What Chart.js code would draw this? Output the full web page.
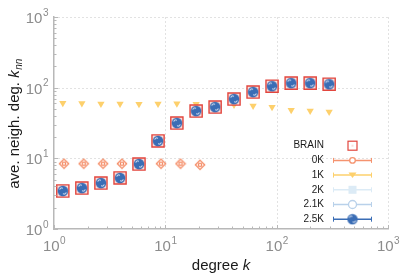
<!DOCTYPE html>
<html>
<head>
<meta charset="utf-8">
<script src="https://cdn.jsdelivr.net/npm/chart.js@4/dist/chart.umd.min.js"></script>
<style>
html, body { margin: 0; padding: 0; background: #fff; }
#wrap { width: 415px; height: 277px; }
</style>
</head>
<body>
<div id="wrap"><canvas id="knn"></canvas></div>
<script>
// degree bins k
const degree = [1.2, 1.78, 2.64, 3.92, 5.8, 8.6, 12.7, 18.9, 28, 41.4, 61.4, 90.9, 135, 200, 296];
const degree0K = [1.23, 1.85, 2.76, 4.08, 5.93, 9.15, 13.7, 20.5];

// average neighbour degree k_nn
const brain = [3.45, 3.8, 4.47, 5.27, 8.3, 17.6, 31.6, 46.7, 53.2, 69, 86.7, 105, 116, 116, 112];
const knn0K = [8.4, 8.4, 8.4, 8.4, 8.4, 8.4, 8.4, 8.1];
const knn1K = [60.5, 60, 59, 59, 58.5, 59, 59.5, 58.5, 57.5, 57.3, 55.5, 53.2, 48.2, 47.1, 45.6];
const knn2K = [3.45, 3.8, 4.47, 5.27, 8.3, 17.6, 31.6, 46.7, 53.2, 69, 86.7, 105, 116, 116, 112];
const knn2_1K = [3.45, 3.8, 4.47, 5.27, 8.3, 17.6, 31.6, 46.7, 53.2, 69, 86.7, 105, 116, 116, 112];
const knn2_5K = [3.45, 3.8, 4.47, 5.27, 8.3, 17.6, 31.6, 46.7, 53.2, 69, 86.7, 105, 116, 116, 112];

const decades = [0, 1, 2, 3];
const legendNames = ['BRAIN', '0K', '1K', '2K', '2.1K', '2.5K'];

const FONT = '"Liberation Sans", Arial, Helvetica, sans-serif';
const axisGray = '#b8b8b8';
const labelGray = '#8c8c8c';

function pts(xs, ys) {
    return xs.map((x, i) => ({ x, y: ys[i] }));
}

// dark blue marker with white swirls
function blueDot() {
    const c = document.createElement('canvas');
    c.width = 12; c.height = 12;
    const g = c.getContext('2d');
    g.fillStyle = '#3a6db5';
    g.beginPath(); g.arc(6, 6, 5.2, 0, Math.PI * 2); g.fill();
    g.strokeStyle = 'rgba(255,255,255,0.9)';
    g.lineWidth = 1;
    g.beginPath(); g.arc(4.6, 4.6, 1.7, Math.PI, Math.PI * 1.8); g.stroke();
    g.beginPath(); g.arc(7.4, 7.4, 1.7, 0, Math.PI * 0.8); g.stroke();
    return c;
}

// orange diamond with small ring inside
function diamond() {
    const c = document.createElement('canvas');
    c.width = 12; c.height = 12;
    const g = c.getContext('2d');
    g.strokeStyle = '#f4875f';
    g.lineWidth = 1.2;
    g.beginPath();
    g.moveTo(6, 1.3); g.lineTo(10.7, 6); g.lineTo(6, 10.7); g.lineTo(1.3, 6); g.closePath();
    g.stroke();
    g.beginPath(); g.arc(6, 6, 1.7, 0, Math.PI * 2); g.stroke();
    return c;
}

const blueImg = blueDot();
const diamondImg = diamond();

const datasets = [
    {
        label: '2.5K', data: pts(degree, knn2_5K), order: 0,
        pointStyle: blueImg, color: '#3a6db5'
    },
    {
        label: 'BRAIN', data: pts(degree, brain), order: 1,
        pointStyle: 'rect', pointRadius: 8.6, pointBorderWidth: 1.4,
        pointBorderColor: '#e2463e', pointBackgroundColor: 'rgba(240,150,140,0.3)', color: '#e2463e'
    },
    {
        label: '2.1K', data: pts(degree, knn2_1K), order: 2,
        pointStyle: 'circle', pointRadius: 5.5, pointBorderWidth: 1,
        pointBorderColor: '#c6daee', pointBackgroundColor: 'rgba(0,0,0,0)', color: '#b9d1ea'
    },
    {
        label: '2K', data: pts(degree, knn2K), order: 3,
        pointStyle: 'rect', pointRadius: 5, pointBorderWidth: 0,
        pointBackgroundColor: '#dcebf6', color: '#dcebf6'
    },
    {
        label: '1K', data: pts(degree, knn1K), order: 4,
        pointStyle: 'triangle', pointRotation: 180, pointRadius: 4.2, pointBorderWidth: 0,
        pointBackgroundColor: '#fdd06c', color: '#fdd06c'
    },
    {
        label: '0K', data: pts(degree0K, knn0K), order: 5,
        pointStyle: diamondImg, color: '#f5936f'
    }
];
datasets.forEach(d => { d.showLine = false; });

function drawPow(g, x, y, exp, align) {
    g.font = '15px ' + FONT;
    const w1 = g.measureText('10').width;
    g.font = '10px ' + FONT;
    const w2 = g.measureText(String(exp)).width;
    const start = align === 'right' ? x - w1 - w2 : x - (w1 + w2) / 2;
    g.fillStyle = labelGray;
    g.textAlign = 'left';
    g.textBaseline = 'alphabetic';
    g.font = '15px ' + FONT;
    g.fillText('10', start, y);
    g.font = '10px ' + FONT;
    g.fillText(String(exp), start + w1 + 0.5, y - 7.5);
}

const decor = {
    id: 'decor',
    beforeDatasetsDraw(chart) {
        const g = chart.ctx;
        const { left, right, top, bottom } = chart.chartArea;
        const xs = chart.scales.x, ys = chart.scales.y;
        g.save();
        g.strokeStyle = '#e2e2e2';
        g.lineWidth = 1;
        g.setLineDash([2, 2]);
        decades.forEach(e => {
            if (e > 0) {
                const px = Math.round(xs.getPixelForValue(10 ** e)) + 0.5;
                g.beginPath(); g.moveTo(px, top); g.lineTo(px, bottom); g.stroke();
                const py = Math.round(ys.getPixelForValue(10 ** e)) + 0.5;
                g.beginPath(); g.moveTo(left, py); g.lineTo(right, py); g.stroke();
            }
        });
        g.restore();
    },
    afterDraw(chart) {
        const g = chart.ctx;
        const { left, right, top, bottom } = chart.chartArea;
        const xs = chart.scales.x, ys = chart.scales.y;
        g.save();

        // minor ticks pointing inwards
        g.strokeStyle = axisGray;
        g.lineWidth = 1;
        decades.slice(0, 3).forEach(e => {
            for (let m = 1; m <= 10; m++) {
                const v = m * 10 ** e;
                const len = (m === 1 || m === 10) ? 4 : 2.5;
                const px = Math.round(xs.getPixelForValue(v)) + 0.5;
                g.beginPath(); g.moveTo(px, bottom); g.lineTo(px, bottom - len); g.stroke();
                const py = Math.round(ys.getPixelForValue(v)) + 0.5;
                g.beginPath(); g.moveTo(left, py); g.lineTo(left + len, py); g.stroke();
            }
        });

        // tick labels
        decades.forEach(e => {
            drawPow(g, xs.getPixelForValue(10 ** e), bottom + 22, e, 'center');
            drawPow(g, left - 6, ys.getPixelForValue(10 ** e) + 6, e, 'right');
        });

        // axis titles
        g.fillStyle = '#1a1a1a';
        g.textBaseline = 'alphabetic';
        const t1 = 'degree ';
        g.font = '15px ' + FONT;
        const w1 = g.measureText(t1).width;
        g.font = 'italic 15px ' + FONT;
        const w2 = g.measureText('k').width;
        const sx = (left + right) / 2 - (w1 + w2) / 2;
        g.textAlign = 'left';
        g.font = '15px ' + FONT;
        g.fillText(t1, sx, 270);
        g.font = 'italic 15px ' + FONT;
        g.fillText('k', sx + w1, 270);

        g.save();
        g.translate(19, 124);
        g.rotate(-Math.PI / 2);
        const a = 'ave. neigh. deg. ';
        g.font = '15px ' + FONT;
        const wa = g.measureText(a).width;
        g.font = 'italic 15px ' + FONT;
        const wk = g.measureText('k').width;
        g.font = 'italic 10px ' + FONT;
        const wn = g.measureText('nn').width;
        const s = -(wa + wk + wn) / 2;
        g.font = '15px ' + FONT;
        g.fillText(a, s, 0);
        g.font = 'italic 15px ' + FONT;
        g.fillText('k', s + wa, 0);
        g.font = 'italic 10px ' + FONT;
        g.fillText('nn', s + wa + wk + 0.5, 3);
        g.restore();

        // legend
        const rowY = 145.7, rowH = 14.7;
        const textX = 324, lx0 = 333, lx1 = 372, mx = 352.5;
        legendNames.forEach((name, i) => {
            const ds = chart.data.datasets.find(d => d.label === name);
            const y = rowY + i * rowH;
            g.fillStyle = '#1a1a1a';
            g.font = '10px ' + FONT;
            g.textAlign = 'right';
            g.textBaseline = 'middle';
            g.fillText(name, textX, y);
            if (name === 'BRAIN') {
                g.strokeStyle = ds.pointBorderColor;
                g.lineWidth = 1.2;
                g.strokeRect(mx - 4.5, y - 4.5, 9, 9);
                g.fillStyle = ds.pointBackgroundColor;
                g.fillRect(mx - 1, y - 1, 2, 2);
                return;
            }
            g.strokeStyle = ds.color;
            g.lineWidth = 1.5;
            g.beginPath(); g.moveTo(lx0, y); g.lineTo(lx1, y); g.stroke();
            g.lineWidth = 1;
            g.beginPath(); g.moveTo(lx0 + 0.5, y - 2.5); g.lineTo(lx0 + 0.5, y + 2.5); g.stroke();
            g.beginPath(); g.moveTo(lx1 - 0.5, y - 2.5); g.lineTo(lx1 - 0.5, y + 2.5); g.stroke();
            if (name === '0K') {
                g.fillStyle = '#fff';
                g.lineWidth = 1.3;
                g.beginPath(); g.arc(mx, y, 2.8, 0, Math.PI * 2); g.fill(); g.stroke();
            } else if (name === '1K') {
                g.fillStyle = ds.pointBackgroundColor;
                g.beginPath(); g.moveTo(mx - 4, y - 2.5); g.lineTo(mx + 4, y - 2.5); g.lineTo(mx, y + 3); g.closePath(); g.fill();
            } else if (name === '2K') {
                g.fillStyle = ds.pointBackgroundColor;
                g.fillRect(mx - 4, y - 4, 8, 8);
            } else if (name === '2.1K') {
                g.fillStyle = '#fff';
                g.lineWidth = 1.3;
                g.beginPath(); g.arc(mx, y, 4, 0, Math.PI * 2); g.fill(); g.stroke();
            } else {
                g.drawImage(blueImg, mx - 6, y - 6);
            }
        });
        g.restore();
    }
};

const logAxis = (fit) => ({
    type: 'logarithmic',
    min: 1,
    max: 1000,
    grid: { display: false },
    border: { display: true, color: axisGray, width: 1.5 },
    ticks: { display: false },
    afterFit: fit
});

new Chart(document.getElementById('knn'), {
    type: 'scatter',
    data: { datasets },
    options: {
        responsive: true,
        maintainAspectRatio: false,
        animation: false,
        layout: { padding: { left: 0, top: 17, right: 27, bottom: 0 } },
        plugins: {
            legend: { display: false },
            tooltip: { enabled: false }
        },
        scales: {
            x: logAxis(s => { s.height = 48; }),
            y: logAxis(s => { s.width = 54; })
        }
    },
    plugins: [decor]
});
</script>
</body>
</html>
